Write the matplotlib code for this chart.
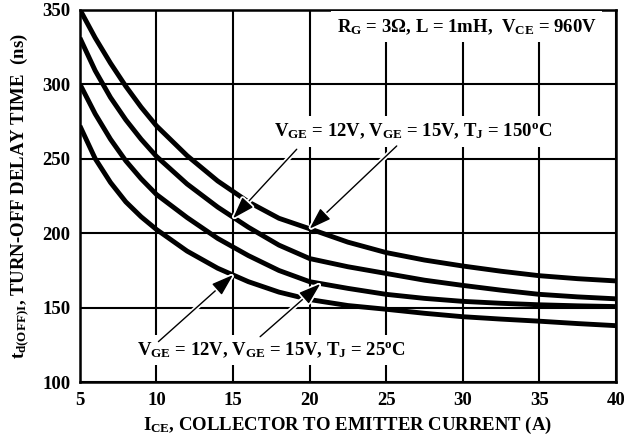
import matplotlib
matplotlib.use("Agg")
import matplotlib.pyplot as plt
import matplotlib.patheffects as pe

plt.rcParams['font.family'] = ['Liberation Serif', 'DejaVu Serif']
plt.rcParams['font.weight'] = 'bold'
plt.rcParams['mathtext.fontset'] = 'custom'
plt.rcParams['mathtext.rm'] = 'Liberation Serif:bold'
plt.rcParams['mathtext.it'] = 'Liberation Serif:bold'
plt.rcParams['mathtext.bf'] = 'Liberation Serif:bold'
plt.rcParams['mathtext.sf'] = 'Liberation Serif:bold'

# Data
ice = [5, 6, 7, 8, 9, 10, 12, 14, 16, 18, 20, 22.5, 25, 27.5, 30, 32.5, 35, 37.5, 40]
td_15v_150c = [350, 331, 314, 298.5, 284.5, 272, 252, 235, 221, 210, 203, 194, 187, 182, 178, 174.5, 171.5, 169.5, 168]
td_12v_150c = [331, 309, 291, 276, 263, 251.5, 233, 217.5, 204, 192, 183, 177.5, 173, 168.5, 165, 161.8, 159, 157.3, 156]
td_15v_25c = [300, 280, 263, 248.5, 236.5, 226, 210.5, 196.5, 185, 175, 167.5, 163, 159, 156.3, 154.3, 153, 152, 151.3, 150.8]
td_12v_25c = [272, 250, 234, 221, 211, 202.5, 188, 176.5, 167.5, 160.5, 155.5, 151.5, 149, 146.3, 144, 142.4, 141, 139.4, 138]
series = [td_15v_150c, td_12v_150c, td_15v_25c, td_12v_25c]

x_ticks = [5, 10, 15, 20, 25, 30, 35, 40]
y_ticks = [100, 150, 200, 250, 300, 350]

FS = 13.5

fig = plt.figure(figsize=(6.24, 4.42), dpi=100)
ax = fig.add_axes([0.128, 0.135, 0.859, 0.8435])

for s in series:
    ax.plot(ice, s, color='black', lw=3.5, solid_capstyle='butt', zorder=3)

ax.set_xlim(5, 40)
ax.set_ylim(100, 350)
ax.set_xticks(x_ticks)
ax.set_yticks(y_ticks)
ax.grid(True, color='black', lw=1.5, zorder=0)
ax.set_axisbelow(True)
for sp in ax.spines.values():
    sp.set_linewidth(1.8)
ax.tick_params(length=0, pad=7, labelsize=FS)
for lab in ax.get_xticklabels() + ax.get_yticklabels():
    lab.set_fontweight('bold')

ax.set_xlabel(r'$I_{CE}$, COLLECTOR TO EMITTER CURRENT (A)', fontsize=FS, fontweight='bold', labelpad=4)
ax.set_ylabel(r'$t_{d(OFF)I}$, TURN-OFF DELAY TIME  (ns)', fontsize=FS, fontweight='bold', labelpad=8)

box = dict(boxstyle='square,pad=0.3', fc='white', ec='none')
ax.text(30.25, 338.4, r'$R_G$ = 3Ω, L = 1mH,  $V_{CE}$ = 960V', fontsize=FS,
        ha='center', va='center', bbox=box, zorder=5)
ax.text(26.76, 268.4, r'$V_{GE}$ = 12V, $V_{GE}$ = 15V, $T_J$ = 150$^o$C', fontsize=FS,
        ha='center', va='center', bbox=box, zorder=5)
ax.text(17.52, 121.7, r'$V_{GE}$ = 12V, $V_{GE}$ = 15V, $T_J$ = 25$^o$C', fontsize=FS,
        ha='center', va='center', bbox=box, zorder=5)

arrows = [((19.16, 256.3), (15, 210)),
          ((25.69, 258.5), (20, 203)),
          ((10.13, 127.3), (15, 172)),
          ((16.77, 130.6), (20.7, 166))]
for tail, tip in arrows:
    a = ax.annotate('', xy=tip, xytext=tail,
                    arrowprops=dict(arrowstyle='-|>,head_length=0.9,head_width=0.3',
                                    mutation_scale=15, color='black', lw=1,
                                    shrinkA=0, shrinkB=0),
                    zorder=6)
    a.arrow_patch.set_path_effects([pe.Stroke(linewidth=3.5, foreground='white'), pe.Normal()])

fig.savefig('out.png', dpi=100)
